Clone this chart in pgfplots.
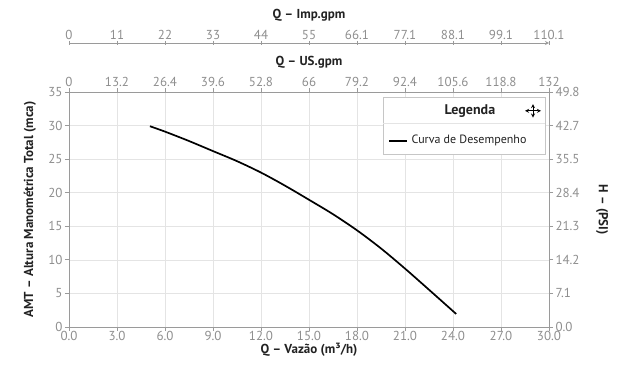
\documentclass[border=0pt]{standalone}
\usepackage{pgfplots}
\pgfplotsset{compat=1.18}
\usepackage{fontspec}
\setmainfont{PT Sans}
\definecolor{axgray}{HTML}{9A9A9A}
\definecolor{tickgray}{HTML}{8E8E8E}
\definecolor{gridgray}{HTML}{E4E4E4}
\definecolor{titlecol}{HTML}{222222}
\tikzset{ttl/.style={font=\bfseries\fontsize{13}{13}\selectfont, text=titlecol, anchor=center}}
\pgfplotsset{
  base/.style={scale only axis, width=480pt, height=235pt,
    xmin=0, xmax=30, ymin=0, ymax=35,
    axis line style={axgray, line width=0.8pt},
    tick style={axgray, line width=0.8pt},
    major tick length=4pt, tick align=outside,
    ticklabel style={font=\fontsize{13}{13}\selectfont, text=tickgray},
    /pgf/number format/assume math mode=true,
    xtick={0,3,6,9,12,15,18,21,24,27,30},
    ytick={0,5,10,15,20,25,30,35},
  },
}
\begin{document}
\begin{tikzpicture}
\path[use as bounding box] (-69pt,-37pt) rectangle (567pt,327pt);
% Imp.gpm axis (shifted up)
\begin{axis}[base, yshift=49pt, axis x line=top, axis y line=none,
  xticklabels={0,11,22,33,44,55,66.1,77.1,88.1,99.1,110.1},
  xlabel={Q – Imp.gpm},
  xlabel style={ttl, at={([yshift=28pt]axis description cs:0.5,1)}},
  xticklabel style={yshift=-2pt}]
\addplot[draw=none] coordinates {(0,0) (30,35)};
\end{axis}
% main axis
\begin{axis}[base, axis x line*=bottom, axis y line*=left,
  grid=major, grid style={gridgray, line width=0.6pt},
  xticklabels={0.0,3.0,6.0,9.0,12.0,15.0,18.0,21.0,24.0,27.0,30.0},
  yticklabels={0,5,10,15,20,25,30,35},
  xticklabel style={yshift=3pt},
  yticklabel style={xshift=1pt},
  xlabel={Q – Vazão (m³/h)},
  xlabel style={ttl, at={([yshift=-23pt]axis description cs:0.5,0)}},
  ylabel={AMT – Altura Manométrica Total (mca)},
  ylabel style={ttl, at={([xshift=-39pt]axis description cs:0,0.5)}}]
\addplot[black, line width=1.7pt, smooth] coordinates {
 (5.06,29.9) (6,29.1) (7.5,27.7) (9,26.2) (10.5,24.7) (12,23.0)
 (13.5,21.05) (15,18.95) (16.5,16.8) (18,14.4) (19.5,11.7) (21,8.7)
 (22.5,5.55) (24.2,1.94)};
% legend box
\draw[draw=gridgray!70!gray, fill=white, line width=0.7pt] (axis cs:19.625,25.77) rectangle (axis cs:29.75,34.26);
\draw[draw=gridgray, line width=0.7pt] (axis cs:19.625,30.38) -- (axis cs:29.75,30.38);
\node[font=\bfseries\fontsize{14}{14}\selectfont, text=titlecol] at (axis cs:25.06,32.2) {Legenda};
\draw[black, line width=1.8pt] (axis cs:20.0,27.75) -- (axis cs:21.1,27.75);
\node[anchor=west, font=\fontsize{12}{12}\selectfont, text=titlecol, inner sep=0pt] at (axis cs:21.4,27.85) {Curva de Desempenho};
\draw[<->, >=stealth, line width=0.8pt, black] (axis cs:28.5,32.2) -- (axis cs:29.5,32.2);
\draw[<->, >=stealth, line width=0.8pt, black] (axis cs:29.0,31.2) -- (axis cs:29.0,33.2);
\end{axis}
% US gpm / PSI axis
\begin{axis}[base, axis x line*=top, axis y line*=right,
  xticklabels={0,13.2,26.4,39.6,52.8,66,79.2,92.4,105.6,118.8,132},
  yticklabels={0.0,7.1,14.2,21.3,28.4,35.5,42.7,49.8},
  xticklabel style={yshift=-2pt},
  yticklabel style={xshift=-1pt},
  xlabel={Q – US.gpm},
  xlabel style={ttl, at={([yshift=30pt]axis description cs:0.5,1)}},
  ylabel={H – (PSI)},
  ylabel style={ttl, rotate=180, at={([xshift=53pt]axis description cs:1,0.5)}}]
\addplot[draw=none] coordinates {(0,0) (30,35)};
\end{axis}
\end{tikzpicture}
\end{document}
